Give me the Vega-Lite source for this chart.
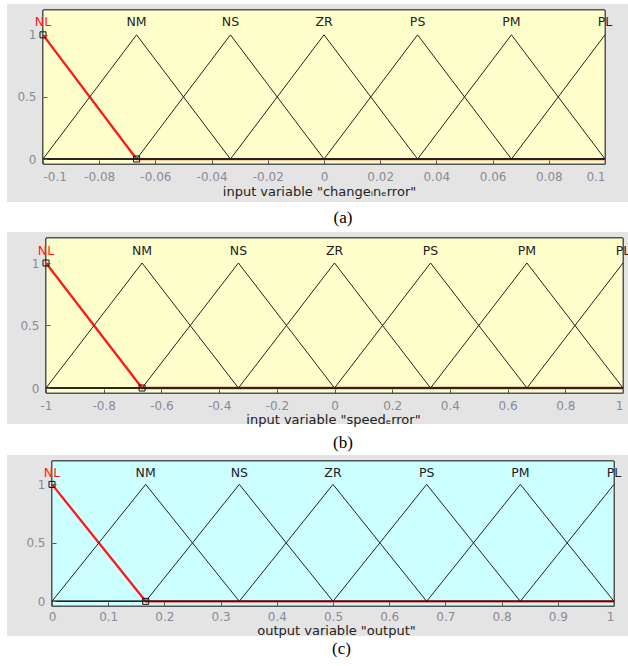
{
  "$schema": "https://vega.github.io/schema/vega-lite/v6.json",
  "background": "white",
  "padding": {"left": 6, "top": 4, "right": 0, "bottom": 0},
  "spacing": 4,
  "config": {
    "view": {"stroke": null},
    "axis": {
      "labelFont": "DejaVu Sans", "labelFontSize": 12, "labelColor": "#8a8a96",
      "titleFont": "DejaVu Sans", "titleFontSize": 13, "titleFontWeight": "normal", "titleColor": "#222",
      "domain": false, "grid": false, "tickColor": "#555", "tickSize": -4, "labelPadding": 12, "titlePadding": 3
    },
    "title": {"font": "Liberation Serif", "fontSize": 17, "fontWeight": "normal", "color": "#000", "orient": "bottom", "anchor": "middle", "frame": "group"}
  },
  "datasets": {
    "a": [
      {"mf": "NL", "ord": 0, "x": -0.1, "mu": 1}, {"mf": "NL", "ord": 1, "x": -0.0667, "mu": 0}, {"mf": "NL", "ord": 2, "x": 0.1, "mu": 0},
      {"mf": "NM", "ord": 0, "x": -0.1, "mu": 0}, {"mf": "NM", "ord": 1, "x": -0.0667, "mu": 1}, {"mf": "NM", "ord": 2, "x": -0.0333, "mu": 0}, {"mf": "NM", "ord": 3, "x": 0.1, "mu": 0},
      {"mf": "NS", "ord": 0, "x": -0.1, "mu": 0}, {"mf": "NS", "ord": 1, "x": -0.0667, "mu": 0}, {"mf": "NS", "ord": 2, "x": -0.0333, "mu": 1}, {"mf": "NS", "ord": 3, "x": 0, "mu": 0}, {"mf": "NS", "ord": 4, "x": 0.1, "mu": 0},
      {"mf": "ZR", "ord": 0, "x": -0.1, "mu": 0}, {"mf": "ZR", "ord": 1, "x": -0.0333, "mu": 0}, {"mf": "ZR", "ord": 2, "x": 0, "mu": 1}, {"mf": "ZR", "ord": 3, "x": 0.0333, "mu": 0}, {"mf": "ZR", "ord": 4, "x": 0.1, "mu": 0},
      {"mf": "PS", "ord": 0, "x": -0.1, "mu": 0}, {"mf": "PS", "ord": 1, "x": 0, "mu": 0}, {"mf": "PS", "ord": 2, "x": 0.0333, "mu": 1}, {"mf": "PS", "ord": 3, "x": 0.0667, "mu": 0}, {"mf": "PS", "ord": 4, "x": 0.1, "mu": 0},
      {"mf": "PM", "ord": 0, "x": -0.1, "mu": 0}, {"mf": "PM", "ord": 1, "x": 0.0333, "mu": 0}, {"mf": "PM", "ord": 2, "x": 0.0667, "mu": 1}, {"mf": "PM", "ord": 3, "x": 0.1, "mu": 0},
      {"mf": "PL", "ord": 0, "x": -0.1, "mu": 0}, {"mf": "PL", "ord": 1, "x": 0.0667, "mu": 0}, {"mf": "PL", "ord": 2, "x": 0.1, "mu": 1}
    ],
    "b": [
      {"mf": "NL", "ord": 0, "x": -1, "mu": 1}, {"mf": "NL", "ord": 1, "x": -0.667, "mu": 0}, {"mf": "NL", "ord": 2, "x": 1, "mu": 0},
      {"mf": "NM", "ord": 0, "x": -1, "mu": 0}, {"mf": "NM", "ord": 1, "x": -0.667, "mu": 1}, {"mf": "NM", "ord": 2, "x": -0.333, "mu": 0}, {"mf": "NM", "ord": 3, "x": 1, "mu": 0},
      {"mf": "NS", "ord": 0, "x": -1, "mu": 0}, {"mf": "NS", "ord": 1, "x": -0.667, "mu": 0}, {"mf": "NS", "ord": 2, "x": -0.333, "mu": 1}, {"mf": "NS", "ord": 3, "x": 0, "mu": 0}, {"mf": "NS", "ord": 4, "x": 1, "mu": 0},
      {"mf": "ZR", "ord": 0, "x": -1, "mu": 0}, {"mf": "ZR", "ord": 1, "x": -0.333, "mu": 0}, {"mf": "ZR", "ord": 2, "x": 0, "mu": 1}, {"mf": "ZR", "ord": 3, "x": 0.333, "mu": 0}, {"mf": "ZR", "ord": 4, "x": 1, "mu": 0},
      {"mf": "PS", "ord": 0, "x": -1, "mu": 0}, {"mf": "PS", "ord": 1, "x": 0, "mu": 0}, {"mf": "PS", "ord": 2, "x": 0.333, "mu": 1}, {"mf": "PS", "ord": 3, "x": 0.667, "mu": 0}, {"mf": "PS", "ord": 4, "x": 1, "mu": 0},
      {"mf": "PM", "ord": 0, "x": -1, "mu": 0}, {"mf": "PM", "ord": 1, "x": 0.333, "mu": 0}, {"mf": "PM", "ord": 2, "x": 0.667, "mu": 1}, {"mf": "PM", "ord": 3, "x": 1, "mu": 0},
      {"mf": "PL", "ord": 0, "x": -1, "mu": 0}, {"mf": "PL", "ord": 1, "x": 0.667, "mu": 0}, {"mf": "PL", "ord": 2, "x": 1, "mu": 1}
    ],
    "c": [
      {"mf": "NL", "ord": 0, "x": 0, "mu": 1}, {"mf": "NL", "ord": 1, "x": 0.1667, "mu": 0}, {"mf": "NL", "ord": 2, "x": 1, "mu": 0},
      {"mf": "NM", "ord": 0, "x": 0, "mu": 0}, {"mf": "NM", "ord": 1, "x": 0.1667, "mu": 1}, {"mf": "NM", "ord": 2, "x": 0.3333, "mu": 0}, {"mf": "NM", "ord": 3, "x": 1, "mu": 0},
      {"mf": "NS", "ord": 0, "x": 0, "mu": 0}, {"mf": "NS", "ord": 1, "x": 0.1667, "mu": 0}, {"mf": "NS", "ord": 2, "x": 0.3333, "mu": 1}, {"mf": "NS", "ord": 3, "x": 0.5, "mu": 0}, {"mf": "NS", "ord": 4, "x": 1, "mu": 0},
      {"mf": "ZR", "ord": 0, "x": 0, "mu": 0}, {"mf": "ZR", "ord": 1, "x": 0.3333, "mu": 0}, {"mf": "ZR", "ord": 2, "x": 0.5, "mu": 1}, {"mf": "ZR", "ord": 3, "x": 0.6667, "mu": 0}, {"mf": "ZR", "ord": 4, "x": 1, "mu": 0},
      {"mf": "PS", "ord": 0, "x": 0, "mu": 0}, {"mf": "PS", "ord": 1, "x": 0.5, "mu": 0}, {"mf": "PS", "ord": 2, "x": 0.6667, "mu": 1}, {"mf": "PS", "ord": 3, "x": 0.8333, "mu": 0}, {"mf": "PS", "ord": 4, "x": 1, "mu": 0},
      {"mf": "PM", "ord": 0, "x": 0, "mu": 0}, {"mf": "PM", "ord": 1, "x": 0.6667, "mu": 0}, {"mf": "PM", "ord": 2, "x": 0.8333, "mu": 1}, {"mf": "PM", "ord": 3, "x": 1, "mu": 0},
      {"mf": "PL", "ord": 0, "x": 0, "mu": 0}, {"mf": "PL", "ord": 1, "x": 0.8333, "mu": 0}, {"mf": "PL", "ord": 2, "x": 1, "mu": 1}
    ]
  },
  "vconcat": [
    {
      "width": 562, "height": 154,
      "data": {"name": "a"},
      "title": {"text": "(a)", "dx": 19, "offset": 8},
      "layer": [
        {"mark": {"type": "rect", "fill": "#e4e4e4"},
         "encoding": {
           "x": {"datum": -0.1128, "type": "quantitative", "scale": {"domain": [-0.1, 0.1], "nice": false, "zero": false},
                 "axis": {"zindex": 1, "labelPadding": 11, "titlePadding": 3, "titleX": 276, "values": [-0.1, -0.08, -0.06, -0.04, -0.02, 0, 0.02, 0.04, 0.06, 0.08, 0.1], "labelExpr": "toString(datum.value)", "title": "input variable \"changeᵢnₑrror\""}},
           "x2": {"datum": 0.1085},
           "y": {"datum": 1.248, "type": "quantitative", "scale": {"domain": [-0.04, 1.2], "nice": false, "zero": false},
                 "axis": {"zindex": 1, "labelPadding": 11, "values": [0, 0.5, 1], "labelExpr": "toString(datum.value)", "title": null}},
           "y2": {"datum": -0.346}}},
        {"mark": {"type": "rect", "fill": "#ffffcc", "stroke": "#555", "strokeWidth": 1},
         "encoding": {
           "x": {"datum": -0.1, "type": "quantitative", "scale": {"domain": [-0.1, 0.1], "nice": false, "zero": false}},
           "x2": {"datum": 0.1},
           "y": {"datum": 1.2, "type": "quantitative", "scale": {"domain": [-0.04, 1.2], "nice": false, "zero": false}},
           "y2": {"datum": -0.04}}},
        {"transform": [{"filter": "datum.mf === 'NL'"}],
         "mark": {"type": "line", "color": "#ff1a1a", "strokeWidth": 2.3},
         "encoding": {
           "x": {"field": "x", "type": "quantitative", "scale": {"domain": [-0.1, 0.1], "nice": false, "zero": false}},
           "y": {"field": "mu", "type": "quantitative", "scale": {"domain": [-0.04, 1.2], "nice": false, "zero": false}},
           "order": {"field": "ord"}}},
        {"transform": [{"filter": "datum.mf !== 'NL'"}],
         "mark": {"type": "line", "color": "#222", "strokeWidth": 1},
         "encoding": {
           "x": {"field": "x", "type": "quantitative", "scale": {"domain": [-0.1, 0.1], "nice": false, "zero": false}},
           "y": {"field": "mu", "type": "quantitative", "scale": {"domain": [-0.04, 1.2], "nice": false, "zero": false}},
           "detail": {"field": "mf"},
           "order": {"field": "ord"}}},
        {"transform": [{"filter": "datum.mf === 'NL' && datum.ord < 2"}],
         "mark": {"type": "point", "shape": "square", "filled": false, "size": 36, "stroke": "#111", "strokeWidth": 1, "opacity": 1},
         "encoding": {
           "x": {"field": "x", "type": "quantitative", "scale": {"domain": [-0.1, 0.1], "nice": false, "zero": false}},
           "y": {"field": "mu", "type": "quantitative", "scale": {"domain": [-0.04, 1.2], "nice": false, "zero": false}}}},
        {"transform": [{"filter": "datum.mu === 1"}],
         "mark": {"type": "text", "font": "DejaVu Sans", "fontSize": 12.5, "baseline": "middle", "align": "center"},
         "encoding": {
           "x": {"field": "x", "type": "quantitative", "scale": {"domain": [-0.1, 0.1], "nice": false, "zero": false}},
           "y": {"datum": 1.1, "type": "quantitative", "scale": {"domain": [-0.04, 1.2], "nice": false, "zero": false}},
           "text": {"field": "mf"},
           "color": {"condition": {"test": "datum.mf === 'NL'", "value": "#ff1a1a"}, "value": "#222"}}}
      ]
    },
    {
      "width": 580, "height": 155,
      "data": {"name": "b"},
      "title": {"text": "(b)", "dx": 10, "offset": 9},
      "layer": [
        {"mark": {"type": "rect", "fill": "#e4e4e4"},
         "encoding": {
           "x": {"datum": -1.1352, "type": "quantitative", "scale": {"domain": [-1.0104, 1], "nice": false, "zero": false},
                 "axis": {"zindex": 1, "labelPadding": 11, "titlePadding": 2, "values": [-1, -0.8, -0.6, -0.4, -0.2, 0, 0.2, 0.4, 0.6, 0.8, 1], "labelExpr": "toString(datum.value)", "title": "input variable \"speedₑrror\""}},
           "x2": {"datum": 1.0208},
           "y": {"datum": 1.248, "type": "quantitative", "scale": {"domain": [-0.04, 1.2], "nice": false, "zero": false},
                 "axis": {"zindex": 1, "offset": -3, "labelPadding": 11, "values": [0, 0.5, 1], "labelExpr": "toString(datum.value)", "title": null}},
           "y2": {"datum": -0.288}}},
        {"mark": {"type": "rect", "fill": "#ffffcc", "stroke": "#555", "strokeWidth": 1},
         "encoding": {
           "x": {"datum": -1, "type": "quantitative", "scale": {"domain": [-1.0104, 1], "nice": false, "zero": false}},
           "x2": {"datum": 1},
           "y": {"datum": 1.2, "type": "quantitative", "scale": {"domain": [-0.04, 1.2], "nice": false, "zero": false}},
           "y2": {"datum": -0.04}}},
        {"transform": [{"filter": "datum.mf === 'NL'"}],
         "mark": {"type": "line", "color": "#ff1a1a", "strokeWidth": 2.3},
         "encoding": {
           "x": {"field": "x", "type": "quantitative", "scale": {"domain": [-1.0104, 1], "nice": false, "zero": false}},
           "y": {"field": "mu", "type": "quantitative", "scale": {"domain": [-0.04, 1.2], "nice": false, "zero": false}},
           "order": {"field": "ord"}}},
        {"transform": [{"filter": "datum.mf !== 'NL'"}],
         "mark": {"type": "line", "color": "#222", "strokeWidth": 1},
         "encoding": {
           "x": {"field": "x", "type": "quantitative", "scale": {"domain": [-1.0104, 1], "nice": false, "zero": false}},
           "y": {"field": "mu", "type": "quantitative", "scale": {"domain": [-0.04, 1.2], "nice": false, "zero": false}},
           "detail": {"field": "mf"},
           "order": {"field": "ord"}}},
        {"transform": [{"filter": "datum.mf === 'NL' && datum.ord < 2"}],
         "mark": {"type": "point", "shape": "square", "filled": false, "size": 36, "stroke": "#111", "strokeWidth": 1, "opacity": 1},
         "encoding": {
           "x": {"field": "x", "type": "quantitative", "scale": {"domain": [-1.0104, 1], "nice": false, "zero": false}},
           "y": {"field": "mu", "type": "quantitative", "scale": {"domain": [-0.04, 1.2], "nice": false, "zero": false}}}},
        {"transform": [{"filter": "datum.mu === 1"}],
         "mark": {"type": "text", "font": "DejaVu Sans", "fontSize": 12.5, "baseline": "middle", "align": "center"},
         "encoding": {
           "x": {"field": "x", "type": "quantitative", "scale": {"domain": [-1.0104, 1], "nice": false, "zero": false}},
           "y": {"datum": 1.1, "type": "quantitative", "scale": {"domain": [-0.04, 1.2], "nice": false, "zero": false}},
           "text": {"field": "mf"},
           "color": {"condition": {"test": "datum.mf === 'NL'", "value": "#ff1a1a"}, "value": "#222"}}}
      ]
    },
    {
      "width": 571, "height": 145,
      "data": {"name": "c"},
      "title": {"text": "(c)", "dx": 13, "offset": 4},
      "layer": [
        {"mark": {"type": "rect", "fill": "#e4e4e4"},
         "encoding": {
           "x": {"datum": -0.0801, "type": "quantitative", "scale": {"domain": [-0.016, 1], "nice": false, "zero": false},
                 "axis": {"zindex": 1, "labelPadding": 9, "titlePadding": 2, "titleX": 293, "values": [0, 0.1, 0.2, 0.3, 0.4, 0.5, 0.6, 0.7, 0.8, 0.9, 1], "labelExpr": "toString(datum.value)", "title": "output variable \"output\""}},
           "x2": {"datum": 1.0267},
           "y": {"datum": 1.2513, "type": "quantitative", "scale": {"domain": [-0.04, 1.2], "nice": false, "zero": false},
                 "axis": {"zindex": 1, "offset": -9, "labelPadding": 11, "values": [0, 0.5, 1], "labelExpr": "toString(datum.value)", "title": null}},
           "y2": {"datum": -0.297}}},
        {"mark": {"type": "rect", "fill": "#ccffff", "stroke": "#555", "strokeWidth": 1},
         "encoding": {
           "x": {"datum": 0, "type": "quantitative", "scale": {"domain": [-0.016, 1], "nice": false, "zero": false}},
           "x2": {"datum": 1},
           "y": {"datum": 1.2, "type": "quantitative", "scale": {"domain": [-0.04, 1.2], "nice": false, "zero": false}},
           "y2": {"datum": -0.04}}},
        {"transform": [{"filter": "datum.mf === 'NL'"}],
         "mark": {"type": "line", "color": "#ff1a1a", "strokeWidth": 2.3},
         "encoding": {
           "x": {"field": "x", "type": "quantitative", "scale": {"domain": [-0.016, 1], "nice": false, "zero": false}},
           "y": {"field": "mu", "type": "quantitative", "scale": {"domain": [-0.04, 1.2], "nice": false, "zero": false}},
           "order": {"field": "ord"}}},
        {"transform": [{"filter": "datum.mf !== 'NL'"}],
         "mark": {"type": "line", "color": "#222", "strokeWidth": 1},
         "encoding": {
           "x": {"field": "x", "type": "quantitative", "scale": {"domain": [-0.016, 1], "nice": false, "zero": false}},
           "y": {"field": "mu", "type": "quantitative", "scale": {"domain": [-0.04, 1.2], "nice": false, "zero": false}},
           "detail": {"field": "mf"},
           "order": {"field": "ord"}}},
        {"transform": [{"filter": "datum.mf === 'NL' && datum.ord < 2"}],
         "mark": {"type": "point", "shape": "square", "filled": false, "size": 36, "stroke": "#111", "strokeWidth": 1, "opacity": 1},
         "encoding": {
           "x": {"field": "x", "type": "quantitative", "scale": {"domain": [-0.016, 1], "nice": false, "zero": false}},
           "y": {"field": "mu", "type": "quantitative", "scale": {"domain": [-0.04, 1.2], "nice": false, "zero": false}}}},
        {"transform": [{"filter": "datum.mu === 1"}],
         "mark": {"type": "text", "font": "DejaVu Sans", "fontSize": 12.5, "baseline": "middle", "align": "center"},
         "encoding": {
           "x": {"field": "x", "type": "quantitative", "scale": {"domain": [-0.016, 1], "nice": false, "zero": false}},
           "y": {"datum": 1.1, "type": "quantitative", "scale": {"domain": [-0.04, 1.2], "nice": false, "zero": false}},
           "text": {"field": "mf"},
           "color": {"condition": {"test": "datum.mf === 'NL'", "value": "#ff1a1a"}, "value": "#222"}}}
      ]
    }
  ]
}
